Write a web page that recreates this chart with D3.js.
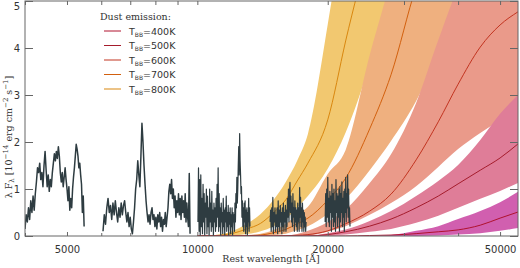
<!DOCTYPE html>
<html><head><meta charset="utf-8">
<script src="https://cdn.jsdelivr.net/npm/d3@7"></script>
<style>body{margin:0;background:#fff}svg{display:block}</style>
</head><body><svg id="c" width="520" height="268"></svg>
<script>
// ---------- data ----------
const xTickMajor = [5000, 10000, 20000, 50000];
const xTickMinor = [4000, 6000, 7000, 8000, 9000, 30000, 40000];
const yTicks = [0, 1, 2, 3, 4, 5];
const temperatures = [800, 700, 600, 500, 400];
const legendTemps = [400, 500, 600, 700, 800];

const dustWave = [10000, 11000, 12000, 13000, 14000, 15000, 16000, 17000, 18000, 20000, 22000, 25000, 28000, 32000, 36000, 40000, 45000, 50000, 55000];
const dust800Low  = [0, 0, 0.01, 0.04, 0.1, 0.21, 0.36, 0.6, 0.85, 1.43, 2.2, 3.68, 5.5, 8, 10, 11.5, 12.5, 13, 13];
const dust800Mid  = [0, 0.01, 0.05, 0.15, 0.27, 0.5, 0.77, 1.17, 1.55, 2.47, 4.15, 6.3, 8.7, 11, 13, 14, 15, 15.5, 15.5];
const dust800High = [0.01, 0.02, 0.1, 0.26, 0.47, 0.77, 1.15, 1.6, 2.17, 4.5, 7, 11, 14, 18, 21, 23, 24, 25, 25];
const dust700Low  = [0, 0, 0, 0, 0, 0.02, 0.05, 0.12, 0.21, 0.47, 0.79, 1.4, 2.02, 2.87, 3.85, 4.7, 5.6, 6.3, 6.8];
const dust700Mid  = [0, 0, 0, 0.01, 0.02, 0.07, 0.14, 0.26, 0.38, 0.76, 1.23, 2.28, 3.43, 5.3, 6.5, 7.5, 8.2, 8.6, 8.8];
const dust700High = [0, 0, 0, 0.01, 0.05, 0.13, 0.26, 0.45, 0.62, 1.32, 1.83, 3.85, 5.5, 8, 10, 11, 12, 12.5, 12.8];
const dust600Low  = [0, 0, 0, 0, 0, 0, 0, 0, 0.01, 0.09, 0.21, 0.45, 0.7, 1.06, 1.47, 1.85, 2.19, 2.47, 2.72];
const dust600Mid  = [0, 0, 0, 0, 0, 0, 0.005, 0.015, 0.03, 0.11, 0.26, 0.53, 0.89, 1.62, 2.43, 3.23, 4.02, 4.49, 4.77];
const dust600High = [0, 0, 0, 0, 0, 0, 0.01, 0.04, 0.11, 0.3, 0.57, 1.13, 1.74, 2.83, 4.17, 5.3, 6.3, 7, 7.5];
const dust500Low  = [0, 0, 0, 0, 0, 0, 0, 0, 0, 0.01, 0.03, 0.09, 0.15, 0.28, 0.43, 0.6, 0.79, 0.96, 1.13];
const dust500Mid  = [0, 0, 0, 0, 0, 0, 0, 0, 0, 0.03, 0.09, 0.21, 0.36, 0.6, 0.85, 1.11, 1.4, 1.66, 1.96];
const dust500High = [0, 0, 0, 0, 0, 0, 0, 0, 0.01, 0.06, 0.14, 0.32, 0.53, 0.85, 1.17, 1.51, 2.04, 2.6, 3.0];
const dust400Low  = [0, 0, 0, 0, 0, 0, 0, 0, 0, 0, 0, 0, 0, 0, 0.01, 0.03, 0.06, 0.11, 0.17];
const dust400Mid  = [0, 0, 0, 0, 0, 0, 0, 0, 0, 0, 0, 0.01, 0.02, 0.05, 0.09, 0.13, 0.23, 0.38, 0.51];
const dust400High = [0, 0, 0, 0, 0, 0, 0, 0, 0, 0, 0, 0.005, 0.02, 0.11, 0.21, 0.36, 0.53, 0.72, 0.94];

// observed spectrum: segments (start/end wavelength in Angstrom, linearly sampled flux)
const specStart = [4000, 6056, 10031, 14722, 19727];
const specEnd   = [5477, 9620, 13229, 17830, 22514];
const specFlux1 = [0.15,0.45,0.3,0.6,0.35,0.75,0.5,0.85,0.55,0.9,1.15,1.45,1.35,1.55,1.2,1.35,1.05,1.5,1.8,1.4,1.05,1.3,0.95,1.2,1.05,1.35,1.55,1.75,1.6,1.8,1.65,1.9,1.7,1.35,1.15,1.35,1.05,1.25,1.45,1.2,1.0,0.75,1.05,0.55,0.8,0.6,1.0,1.25,1.45,1.7,1.95,1.85,1.7,1.45,1.55,1.3,1.1,0.5,0.85,0.2];
const specFlux2 = [0.1,0.45,0.25,0.6,0.8,0.5,0.65,0.35,0.7,0.45,0.75,0.5,0.3,0.6,0.4,0.7,0.45,0.65,0.75,0.5,0.3,0.5,0.2,0.4,0.15,0.05,0.3,0.6,1.0,1.2,1.6,1.3,1.05,1.7,2.4,2.0,1.5,1.1,0.75,0.5,0.3,0.45,0.25,0.5,0.6,0.35,0.45,0.2,0.4,0.15,0.45,0.3,0.5,0.2,0.4,0.1,0.35,0.25,0.5,0.2,0.4,0.6,0.95,1.1,0.9,1.2,0.8,1.0,0.6,0.85,0.4,0.75,0.5,0.9,0.45,0.8,0.35,0.85,0.5,0.75,0.4,0.9,0.3,0.7,0.4,0.2,1.33,0.05];
const specFlux3 = [0.3,1.45,0.1,1.2,0.0,1.3,0.2,0.8, 0.05,1.1,0.3,0.9,0.0,0.7,0.4,1.0, 0.05,0.85,0.2,0.6,0.0,1.0,0.3,0.7, 0.1,0.95,0.2,0.55,0.0,0.7,0.3,0.6, 0.1,0.8,0.2,1.1,0.4,1.45,0.1,0.9, 0.2,0.6,0.0,0.7,0.3,0.5,0.05,0.8, 0.2,0.55,0.0,0.6,0.3,0.85,0.1,0.5, 0.2,0.65,0.0,0.5,0.25,0.6,0.05,0.45, 0.2,0.6,0.0,0.5,0.3,0.45,0.1,0.7, 0.3,0.9,0.6,1.25,0.7,1.0,1.5,1.9, 1.3,2.18,1.6,1.3,0.9,1.05,0.4,0.75, 0.2,0.6,0.1,0.7,0.3,0.75,0.05,0.55, 0.2,0.6,0.0,0.5,0.3,0.8,0.1,0.6, 0.2];
const specFlux4 = [0.3,0.55,0.1,0.6,0.2,0.82,0.05,0.5, 0.3,0.6,0.1,0.45,0.2,0.6,0.05,0.75, 0.2,0.55,0.1,0.65,0.3,0.5,0.05,0.6, 0.2,0.7,0.1,0.5,0.3,0.65,0.1,0.55, 0.2,0.8,0.4,1.0,0.3,0.9,1.14,0.5, 0.85,0.3,0.7,0.2,0.9,0.4,0.6,0.1, 0.75,0.3,0.6,0.2,0.55,0.1,0.7,0.3, 0.6,0.1,1.03,0.4,0.82,0.2,0.6,0.1, 0.7,0.3,0.55,0.1,0.5,0.2,0.4,0.1, 0.3];
const specFlux5 = [0.3,0.9,0.2,1.0,0.4,1.25,0.3,0.8, 0.2,0.95,0.5,0.85,0.1,1.1,0.4,0.9, 0.2,1.0,0.3,0.75,0.1,1.2,0.5,0.9, 0.2,0.85,0.4,1.0,0.1,1.05,0.3,0.9, 0.5,1.15,0.2,0.8,0.4,0.95,0.1,1.0, 0.5,1.25,0.3,0.9,0.6,1.3,0.4,1.0, 0.3,0.6,0.2];

// ---------- styles ----------
const bandColor = {800: '#f2c870', 700: '#efb07f', 600: '#ea9a8a', 500: '#df7d98', 400: '#d15faf'};
const lineColor = {800: '#d9870f', 700: '#d2600e', 600: '#c23420', 500: '#a51c2c', 400: '#b0122e'};

const dust = {
  800: [dust800Low, dust800Mid, dust800High],
  700: [dust700Low, dust700Mid, dust700High],
  600: [dust600Low, dust600Mid, dust600High],
  500: [dust500Low, dust500Mid, dust500High],
  400: [dust400Low, dust400Mid, dust400High]
};
const specFlux = [specFlux1, specFlux2, specFlux3, specFlux4, specFlux5];

// ---------- layout ----------
const svg = d3.select('#c');
const L = 25, R = 518, T = 1, B = 236;
const x = d3.scaleLog().domain([4000, 55000]).range([L, R]);
const y = d3.scaleLinear().domain([0, 5]).range([B, T]);

svg.append('defs').append('clipPath').attr('id', 'clip')
  .append('rect').attr('x', L).attr('y', T).attr('width', R - L).attr('height', B - T);
const plot = svg.append('g').attr('clip-path', 'url(#clip)');

// bands
temperatures.forEach(t => {
  const [lo, mid, hi] = dust[t];
  const pts = dustWave.map((w, i) => ({w, lo: lo[i], mid: mid[i], hi: hi[i]}));
  plot.append('path').datum(pts)
    .attr('fill', bandColor[t])
    .attr('d', d3.area().x(d => x(d.w)).y0(d => y(d.lo)).y1(d => y(d.hi)).curve(d3.curveMonotoneX));
});
temperatures.forEach(t => {
  const [lo, mid, hi] = dust[t];
  const pts = dustWave.map((w, i) => ({w, v: mid[i]}));
  plot.append('path').datum(pts)
    .attr('fill', 'none').attr('stroke', lineColor[t]).attr('stroke-width', 1)
    .attr('d', d3.line().x(d => x(d.w)).y(d => y(d.v)).curve(d3.curveMonotoneX));
});

// spectrum
specFlux.forEach((arr, k) => {
  const n = arr.length;
  const pts = arr.map((v, i) => ({w: specStart[k] + (specEnd[k] - specStart[k]) * i / (n - 1), v}));
  plot.append('path').datum(pts)
    .attr('fill', 'none').attr('stroke', '#2e3c41').attr('stroke-width', k < 2 ? 1.5 : 1.2)
    .attr('stroke-linejoin', 'round')
    .attr('d', d3.line().x(d => x(d.w)).y(d => y(d.v)));
});

// frame
svg.append('rect').attr('x', L).attr('y', T).attr('width', R - L).attr('height', B - T)
  .attr('fill', 'none').attr('stroke', '#666').attr('stroke-width', 1);

// axes
const fmt = d3.format('d');
const axB = d3.axisBottom(x).tickValues(xTickMajor).tickFormat(fmt).tickSize(4).tickSizeOuter(0).tickPadding(6);
const axBm = d3.axisBottom(x).tickValues(xTickMinor).tickFormat('').tickSize(3).tickSizeOuter(0);
const gB = svg.append('g').attr('transform', `translate(0,${B})`).call(axB);
gB.selectAll('.tick line').attr('y2', -4);
const gBm = svg.append('g').attr('transform', `translate(0,${B})`).call(axBm);
gBm.selectAll('.tick line').attr('y2', -3);
const gT = svg.append('g').attr('transform', `translate(0,${T})`).call(d3.axisTop(x).tickValues(xTickMajor.concat(xTickMinor)).tickFormat('').tickSize(0).tickSizeOuter(0));
gT.selectAll('.tick line').attr('y2', 4);
const gL = svg.append('g').attr('transform', `translate(${L},0)`).call(d3.axisLeft(y).tickValues(yTicks).tickFormat(fmt).tickSize(0).tickPadding(5));
gL.selectAll('.tick line').attr('x2', 8);
const gR = svg.append('g').attr('transform', `translate(${R},0)`).call(d3.axisRight(y).tickValues(yTicks).tickFormat('').tickSize(0));
gR.selectAll('.tick line').attr('x2', -8);
[gB, gBm, gT, gL, gR].forEach(g => {
  g.select('.domain').remove();
  g.selectAll('.tick line').attr('stroke', '#666');
  g.selectAll('text').attr('font-family', 'DejaVu Sans, sans-serif').attr('font-size', 10).attr('fill', '#333');
});
gL.selectAll('.tick text').filter(d => d === 5).attr('dy', '0.8em');

// axis titles
svg.append('text').attr('x', 271).attr('y', 262).attr('text-anchor', 'middle')
  .attr('font-family', 'DejaVu Serif, serif').attr('font-size', 9.5).attr('fill', '#333')
  .text('Rest wavelength [Å]');

const yl = svg.append('text').attr('transform', 'translate(12,137) rotate(-90)')
  .attr('text-anchor', 'middle').attr('font-family', 'DejaVu Serif, serif')
  .attr('font-size', 9.5).attr('fill', '#333');
yl.append('tspan').text('λ F');
yl.append('tspan').attr('font-size', 7).attr('dy', 2).text('λ');
yl.append('tspan').attr('dy', -2).text(' [10');
yl.append('tspan').attr('font-size', 7).attr('dy', -4).text('−14');
yl.append('tspan').attr('dy', 4).text(' erg cm');
yl.append('tspan').attr('font-size', 7).attr('dy', -4).text('−2');
yl.append('tspan').attr('dy', 4).text(' s');
yl.append('tspan').attr('font-size', 7).attr('dy', -4).text('−1');
yl.append('tspan').attr('dy', 4).text(']');

// legend
svg.append('text').attr('x', 100).attr('y', 20)
  .attr('font-family', 'DejaVu Serif, serif').attr('font-size', 9.5).attr('fill', '#333')
  .text('Dust emission:');
const lg = svg.append('g');
legendTemps.forEach((t, i) => {
  const yy = 31 + i * 14.5;
  lg.append('line').attr('x1', 104).attr('x2', 121).attr('y1', yy).attr('y2', yy)
    .attr('stroke', lineColor[t]).attr('stroke-width', 1);
  const tx = lg.append('text').attr('x', 129).attr('y', yy + 3.5)
    .attr('font-family', 'DejaVu Sans, sans-serif').attr('font-size', 9.5).attr('fill', '#333');
  tx.append('tspan').text('T');
  tx.append('tspan').attr('font-size', 6).attr('dy', 2).text('BB');
  tx.append('tspan').attr('dy', -2).text('=' + t + 'K');
});
</script>
</body></html>
